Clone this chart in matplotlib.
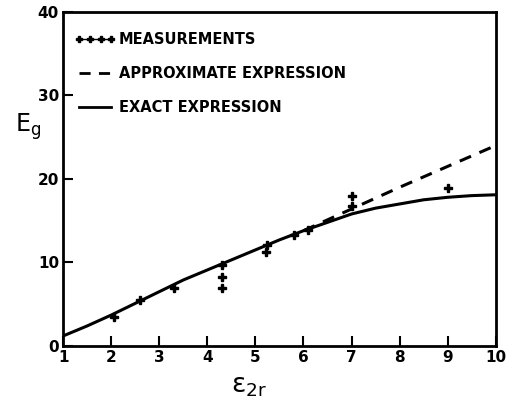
import matplotlib.pyplot as plt
from matplotlib.lines import Line2D

# Curvas
eps = [1, 1.5, 2, 2.5, 3, 3.5, 4, 4.5, 5, 5.5, 6, 6.5, 7, 7.5, 8, 8.5, 9, 9.5, 10]
exata = [1.2, 2.4, 3.7, 5.1, 6.5, 7.9, 9.1, 10.3, 11.5, 12.7, 13.8, 14.8,
         15.8, 16.5, 17.0, 17.5, 17.8, 18.0, 18.1]

eps_aprox = [6, 7, 8, 9, 10]
aproximada = [13.8, 16.4, 19.0, 21.5, 24.0]

# Medições
med_x = [2.05, 2.6, 3.3, 4.3, 4.3, 4.3, 5.23, 5.25, 5.8, 6.1, 7.0, 7.0, 9.0]
med_y = [3.5, 5.5, 6.9, 9.7, 8.3, 6.9, 11.3, 12.1, 13.3, 13.9, 17.9, 16.7, 18.9]

plt.rcParams['font.family'] = ['DejaVu Sans']

fig = plt.figure(figsize=(5.09, 4.08), dpi=100)
ax = fig.add_axes([0.124, 0.152, 0.850, 0.819])

ax.plot(eps, exata, color='black', lw=2.2, solid_capstyle='butt')
ax.plot(eps_aprox, aproximada, color='black', lw=2.2, linestyle=(0, (4, 3)))
ax.plot(med_x, med_y, linestyle='none', marker='P', color='black', markersize=5.5)

ax.set_xlim(1, 10)
ax.set_ylim(0, 40)
ax.set_xticks(range(1, 11))
ax.set_yticks([0, 10, 20, 30, 40])
ax.tick_params(direction='in', length=7, width=1.5, labelsize=11, pad=3)
for lab in ax.get_xticklabels() + ax.get_yticklabels():
    lab.set_fontweight('bold')
for s in ax.spines.values():
    s.set_linewidth(2)

ax.set_xlabel(r'$\mathsf{\epsilon_{2r}}$', fontsize=19)
ax.xaxis.set_label_coords(0.43, -0.08)
ax.set_ylabel(r'$\mathsf{E_g}$', fontsize=17, rotation=0)
ax.yaxis.set_label_coords(-0.08, 0.61)

# Legenda
handles = [
    Line2D([], [], color='black', lw=1, marker='P', markersize=4),
    Line2D([], [], color='black', lw=2, linestyle=(0, (4, 3))),
    Line2D([], [], color='black', lw=2),
]
nomes = ['MEASUREMENTS', 'APPROXIMATE EXPRESSION', 'EXACT EXPRESSION']
leg = ax.legend(handles, nomes, loc='upper left', bbox_to_anchor=(0.0, 0.975),
                frameon=False, numpoints=4,
                prop={'weight': 'bold', 'size': 10.5}, handlelength=2.8,
                handletextpad=0.2, labelspacing=1.3, borderaxespad=0.5,
                borderpad=0.3)

fig.savefig('out.png', dpi=100)
